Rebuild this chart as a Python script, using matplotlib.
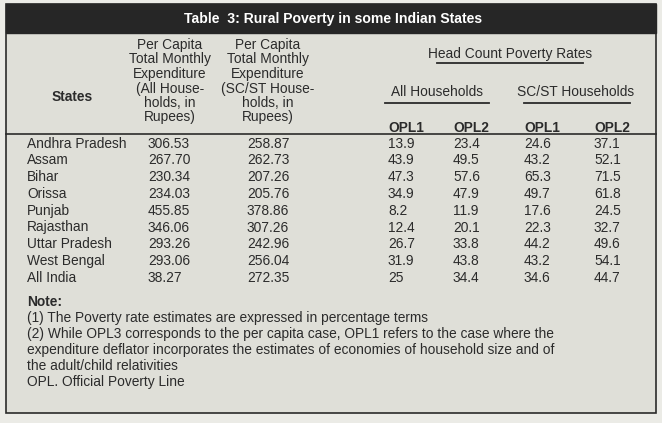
import matplotlib
matplotlib.use("Agg")
import matplotlib.pyplot as plt
from matplotlib.patches import Rectangle

states = ["Andhra Pradesh", "Assam", "Bihar", "Orissa", "Punjab", "Rajasthan",
          "Uttar Pradesh", "West Bengal", "All India"]
exp_all = ["306.53", "267.70", "230.34", "234.03", "455.85", "346.06", "293.26", "293.06", "38.27"]
exp_scst = ["258.87", "262.73", "207.26", "205.76", "378.86", "307.26", "242.96", "256.04", "272.35"]
all_opl1 = ["13.9", "43.9", "47.3", "34.9", "8.2", "12.4", "26.7", "31.9", "25"]
all_opl2 = ["23.4", "49.5", "57.6", "47.9", "11.9", "20.1", "33.8", "43.8", "34.4"]
sc_opl1 = ["24.6", "43.2", "65.3", "49.7", "17.6", "22.3", "44.2", "43.2", "34.6"]
sc_opl2 = ["37.1", "52.1", "71.5", "61.8", "24.5", "32.7", "49.6", "54.1", "44.7"]

title = "Table  3: Rural Poverty in some Indian States"
hdr_exp_all = ["Per Capita", "Total Monthly", "Expenditure", "(All House-", "holds, in", "Rupees)"]
hdr_exp_sc = ["Per Capita", "Total Monthly", "Expenditure", "(SC/ST House-", "holds, in", "Rupees)"]
notes = ["(1) The Poverty rate estimates are expressed in percentage terms",
         "(2) While OPL3 corresponds to the per capita case, OPL1 refers to the case where the",
         "expenditure deflator incorporates the estimates of economies of household size and of",
         "the adult/child relativities",
         "OPL. Official Poverty Line"]

plt.rcParams['font.family'] = ["Liberation Sans", 'DejaVu Sans']

BG = "#dfdfd8"
INK = "#2b2b2b"
fig = plt.figure(figsize=(6.62, 4.23), dpi=100, facecolor="#ebebe6")
ax = fig.add_axes([0, 0, 1, 1])
ax.set_xlim(0, 662)
ax.set_ylim(423, 0)
ax.axis("off")

ax.add_patch(Rectangle((6, 4), 650, 409, facecolor=BG, edgecolor=INK, lw=1.2))
ax.add_patch(Rectangle((6, 4), 650, 29, facecolor="#262626", edgecolor="#262626", lw=1))
ax.text(333, 18.5, title, color="white", fontsize=10.1, fontweight="bold", ha="center", va="center")

fs = 9.9
ax.text(72, 97, "States", fontsize=fs, fontweight="bold", ha="center", va="center", color=INK)
hy = [45, 59.5, 74, 88.5, 103, 117.5]
for y, a, b in zip(hy, hdr_exp_all, hdr_exp_sc):
    ax.text(170, y, a, fontsize=fs, ha="center", va="center", color=INK)
    ax.text(268, y, b, fontsize=fs, ha="center", va="center", color=INK)

ax.text(510, 54, "Head Count Poverty Rates", fontsize=fs, ha="center", va="center", color=INK)
ax.plot([437, 583], [63.5, 63.5], color=INK, lw=1.3)
ax.text(437, 92, "All Households", fontsize=fs, ha="center", va="center", color=INK)
ax.plot([385, 489], [103.5, 103.5], color=INK, lw=1.3)
ax.text(576, 92, "SC/ST Households", fontsize=fs, ha="center", va="center", color=INK)
ax.plot([524, 630], [103.5, 103.5], color=INK, lw=1.3)
xs_num = [388, 453, 524, 594]
for x, lab in zip(xs_num, ["OPL1", "OPL2", "OPL1", "OPL2"]):
    ax.text(x, 128, lab, fontsize=fs, fontweight="bold", ha="left", va="center", color=INK)
ax.plot([6, 656], [134, 134], color=INK, lw=1.2)

cols = [states, exp_all, exp_scst, all_opl1, all_opl2, sc_opl1, sc_opl2]
xs = [27, 148, 247] + xs_num
for i in range(len(states)):
    y = 143.5 + 16.8 * i
    for x, col in zip(xs, cols):
        ax.text(x, y, col[i], fontsize=fs, ha="left", va="center", color=INK)

ax.text(27, 302, "Note:", fontsize=fs, fontweight="bold", ha="left", va="center", color=INK)
for j, line in enumerate(notes):
    ax.text(27, 318 + 16 * j, line, fontsize=fs, ha="left", va="center", color=INK)

fig.savefig("out.png", dpi=100, facecolor=fig.get_facecolor())
